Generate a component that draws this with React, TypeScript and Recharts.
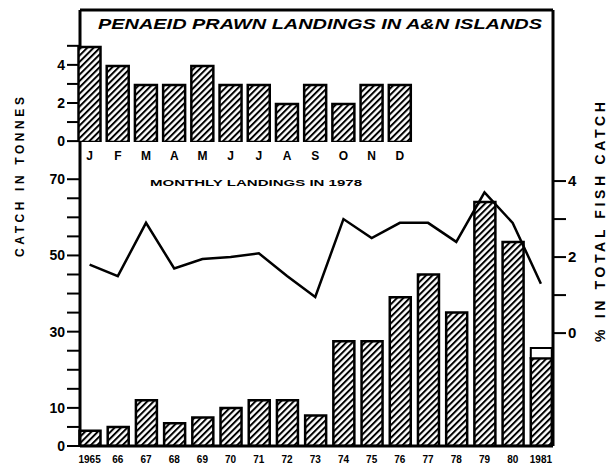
import React from 'react';
import { ComposedChart, BarChart, Bar, Line, XAxis, YAxis, ReferenceLine } from 'recharts';

const years = ['1965', '66', '67', '68', '69', '70', '71', '72', '73', '74', '75', '76', '77', '78', '79', '80', '1981'];
const catchTonnes = [4, 5, 12, 6, 7.5, 10, 12, 12, 8, 27.5, 27.5, 39, 45, 35, 64, 53.5, 23];
const provisional = [null, null, null, null, null, null, null, null, null, null, null, null, null, null, null, null, 2.7];
const pctFishCatch = [1.8, 1.5, 2.9, 1.7, 1.95, 2.0, 2.1, 1.5, 0.95, 3.0, 2.5, 2.9, 2.9, 2.4, 3.7, 2.9, 1.3];

const months = ['J', 'F', 'M', 'A', 'M', 'J', 'J', 'A', 'S', 'O', 'N', 'D'];
const monthly1978 = [5, 4, 3, 3, 4, 3, 3, 2, 3, 2, 3, 3];

const leftTicks = [0, 5, 10, 15, 20, 25, 30, 35, 40, 45, 50, 55, 60, 65, 70, 80, 85, 90, 95, 100, 105];
const leftLabels: Record<number, string> = { 0: '0', 10: '10', 30: '30', 50: '50', 70: '70', 80: '0', 90: '2', 100: '4' };
const rightTicks = [0, 1, 2, 3, 4];
const rightLabels: Record<number, string> = { 0: '0', 2: '2', 4: '4' };

const yearData = years.map((y, i) => ({ year: y, tonnes: catchTonnes[i], prov: provisional[i], pct: pctFishCatch[i] }));
const monthData = months.map((m, i) => ({ idx: i, m, tonnes: monthly1978[i] }));

const FONT = '"Liberation Sans", Arial, sans-serif';
const LEFT_TOP = 114.4; // left axis value at the frame top

const LeftTick = (props: any) => {
  const { x, y, payload } = props;
  const lab = leftLabels[payload.value];
  if (!lab) return null;
  return (
    <text x={x} y={y} dy={5} textAnchor="end" fontSize={14} fontWeight="bold" fontFamily={FONT} fill="#000">
      {lab}
    </text>
  );
};

const RightTick = (props: any) => {
  const { x, y, payload } = props;
  const lab = rightLabels[payload.value];
  if (!lab) return null;
  return (
    <text x={x} y={y} dy={5} textAnchor="start" fontSize={15} fontWeight="bold" fontFamily={FONT} fill="#000">
      {lab}
    </text>
  );
};

const YearTick = (props: any) => {
  const { x, y, payload } = props;
  return (
    <text x={x} y={y} dy={9} textAnchor="middle" fontSize={10} fontWeight="bold" fontFamily={FONT} fill="#000">
      {payload.value}
    </text>
  );
};

const MonthTick = (props: any) => {
  const { x, y, payload } = props;
  return (
    <text x={x} y={y} dy={10} textAnchor="middle" fontSize={12} fontWeight="bold" fontFamily={FONT} fill="#000">
      {months[payload.value]}
    </text>
  );
};

const Hatch = ({ id }: { id: string }) => (
  <defs>
    <pattern id={id} width="4.5" height="4.5" patternUnits="userSpaceOnUse" patternTransform="rotate(45)">
      <rect width="4.5" height="4.5" fill="#fff" />
      <line x1="1" y1="0" x2="1" y2="4.5" stroke="#000" strokeWidth="2" />
    </pattern>
  </defs>
);

export default function App() {
  return (
    <div style={{ position: 'absolute', left: 0, top: 0, width: 612, height: 473, background: '#fff' }}>
      <div style={{ position: 'absolute', left: 0, top: 0 }}>
        <ComposedChart width={612} height={473} data={yearData} margin={{ top: 10, right: 0, bottom: 7, left: 0 }}>
          <Hatch id="hatchMain" />
          <XAxis
            dataKey="year"
            interval={0}
            height={20}
            padding={{ left: -4.5, right: -2 }}
            axisLine={{ stroke: '#000', strokeWidth: 3 }}
            tickLine={false}
            tick={<YearTick />}
          />
          <YAxis
            yAxisId="left"
            width={80}
            domain={[0, LEFT_TOP]}
            allowDataOverflow
            ticks={leftTicks}
            interval={0}
            tickSize={13}
            tickMargin={2}
            axisLine={{ stroke: '#000', strokeWidth: 3 }}
            tickLine={{ stroke: '#000', strokeWidth: 2 }}
            tick={<LeftTick />}
          />
          <YAxis
            yAxisId="right"
            orientation="right"
            width={59}
            domain={[-2.97, 8.5]}
            allowDataOverflow
            ticks={rightTicks}
            interval={0}
            tickSize={13}
            tickMargin={2}
            axisLine={{ stroke: '#000', strokeWidth: 3 }}
            tickLine={{ stroke: '#000', strokeWidth: 2 }}
            tick={<RightTick />}
          />
          <ReferenceLine yAxisId="left" y={LEFT_TOP} stroke="#000" strokeWidth={3} ifOverflow="extendDomain" />
          <Bar yAxisId="left" dataKey="tonnes" stackId="a" barSize={21} fill="url(#hatchMain)" stroke="#000" strokeWidth={2.5} isAnimationActive={false} />
          <Bar yAxisId="left" dataKey="prov" stackId="a" barSize={21} fill="#fff" stroke="#000" strokeWidth={2} isAnimationActive={false} />
          <Line yAxisId="right" dataKey="pct" type="linear" stroke="#000" strokeWidth={2.5} dot={false} isAnimationActive={false} />
        </ComposedChart>
      </div>
      <div style={{ position: 'absolute', left: 0, top: 0 }}>
        <BarChart width={612} height={473} data={monthData} margin={{ top: 10, right: 198, bottom: 311, left: 75.5 }}>
          <Hatch id="hatchInset" />
          <XAxis dataKey="idx" interval={0} height={20} axisLine={false} tickLine={false} tick={<MonthTick />} />
          <YAxis hide domain={[0, 6.95]} allowDataOverflow />
          <Bar dataKey="tonnes" barSize={22} fill="url(#hatchInset)" stroke="#000" strokeWidth={2.5} isAnimationActive={false} />
        </BarChart>
      </div>
      <svg width={612} height={473} style={{ position: 'absolute', left: 0, top: 0, pointerEvents: 'none' }}>
        <text x={98} y={29} textLength={444} lengthAdjust="spacingAndGlyphs" fontSize={15} fontStyle="italic" fontWeight="bold" fontFamily={FONT}>
          PENAEID PRAWN LANDINGS IN A&amp;N ISLANDS
        </text>
        <text x={150} y={186} textLength={212} lengthAdjust="spacingAndGlyphs" fontSize={9} fontWeight="bold" fontFamily={FONT}>
          MONTHLY LANDINGS IN 1978
        </text>
        <text x={0} y={0} transform="translate(24,177) rotate(-90)" textAnchor="middle" textLength={160} lengthAdjust="spacing" fontSize={12} fontWeight="bold" fontFamily={FONT}>
          CATCH  IN  TONNES
        </text>
        <text x={0} y={0} transform="translate(605,222) rotate(-90)" textAnchor="middle" textLength={240} lengthAdjust="spacing" fontSize={14} fontWeight="bold" fontFamily={FONT}>
          % IN TOTAL FISH CATCH
        </text>
      </svg>
    </div>
  );
}
